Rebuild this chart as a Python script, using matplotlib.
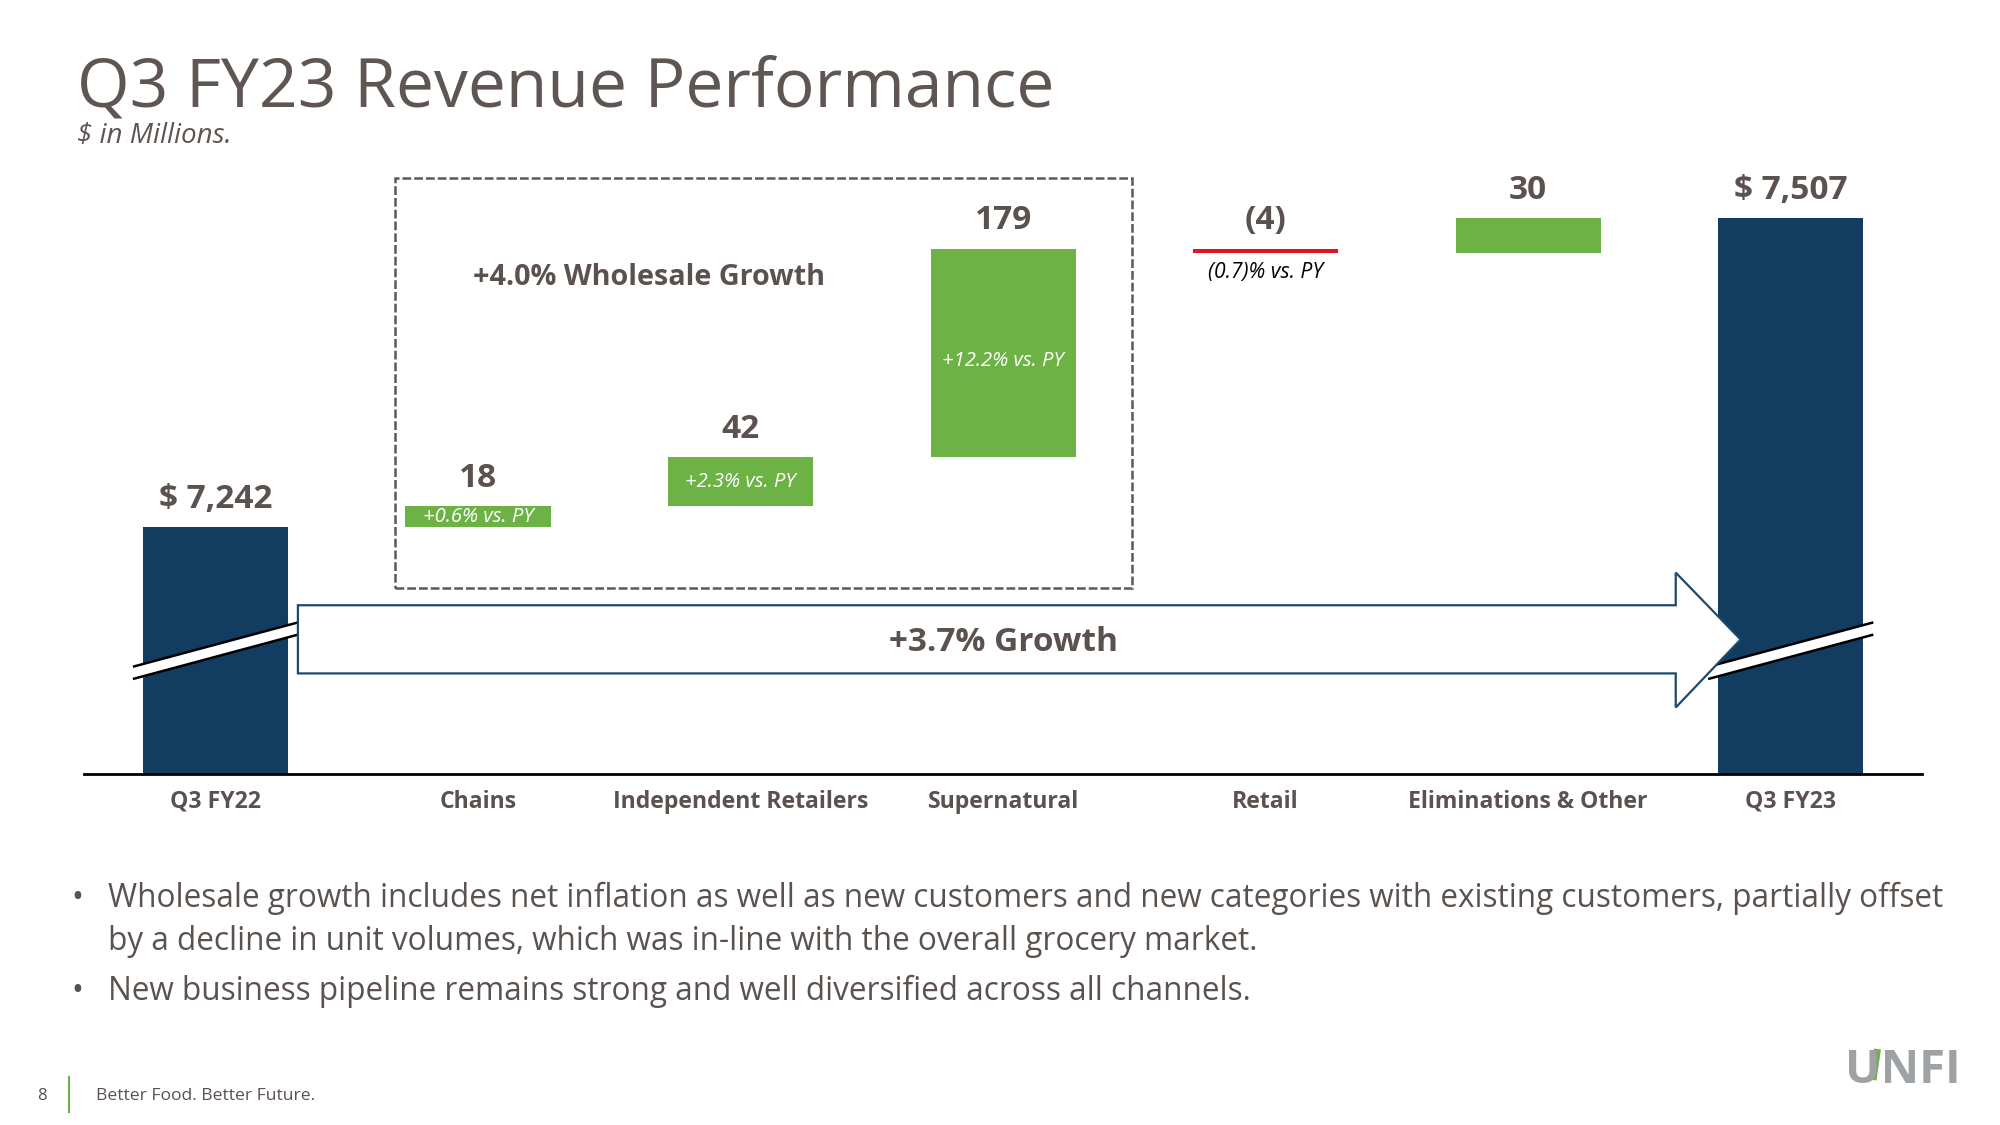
import numpy as np
import matplotlib.pyplot as plt
from matplotlib.patches import Polygon, Rectangle
from matplotlib.lines import Line2D

plt.rcParams['font.family'] = ['Open Sans', 'DejaVu Sans']

# 数据
categories = ['Q3 FY22', 'Chains', 'Independent Retailers', 'Supernatural',
              'Retail', 'Eliminations & Other', 'Q3 FY23']
start_total = 7242
deltas = [18, 42, 179, -4, 30]
end_total = 7507
value_labels = ['$ 7,242', '18', '42', '179', '(4)', '30', '$ 7,507']
pct_labels = ['+0.6% vs. PY', '+2.3% vs. PY', '+12.2% vs. PY', '(0.7)% vs. PY']
bullets = [
    'Wholesale growth includes net inflation as well as new customers and new categories with existing customers, partially offset\nby a decline in unit volumes, which was in-line with the overall grocery market.',
    'New business pipeline remains strong and well diversified across all channels.',
]

navy = '#123d60'
green = '#6db244'
red = '#e3141f'
txt = '#5b524f'

# 瀑布图的底和顶
bottoms = [0]
heights = [start_total]
run = start_total
for d in deltas:
    bottoms.append(run)
    heights.append(d)
    run += d
bottoms.append(0)
heights.append(end_total)
colors = [navy] + [green if d > 0 else red for d in deltas] + [navy]
x = np.arange(len(categories))

fig = plt.figure(figsize=(20, 11.25), dpi=100)
ax = fig.add_axes([0.0421, 0.3118, 0.9189, 0.549])
ax.set_xlim(-0.5, 6.5)
ax.set_ylim(7030, 7560)
ax.bar(x, heights, bottom=bottoms, width=0.553, color=colors, zorder=2)

for s in ['top', 'right', 'left', 'bottom']:
    ax.spines[s].set_visible(False)
ax.axhline(7030, color='black', lw=2, zorder=5, clip_on=False)
ax.set_yticks([])
ax.set_xticks(x)
ax.set_xticklabels(categories, fontsize=16.6, fontweight='bold', color=txt)
ax.tick_params(axis='x', length=0, pad=11)

# 数值标签
for i in range(len(x)):
    top = bottoms[i] + max(heights[i], 0)
    ax.annotate(value_labels[i], (x[i], top), xytext=(0, 20), textcoords='offset points',
                ha='center', va='center', fontsize=24, fontweight='bold', color=txt)

# 百分比标签（大柱子里的略偏下）
for j in range(3):
    i = j + 1
    nudge = -6 if heights[i] > 100 else 0
    ax.annotate(pct_labels[j], (x[i], bottoms[i] + heights[i] / 2), xytext=(0, nudge),
                textcoords='offset points', ha='center', va='center',
                fontsize=14.6, style='italic', color='white', zorder=3)
ax.annotate(pct_labels[3], (x[4], bottoms[4] + heights[4]), xytext=(0, -14),
            textcoords='offset points', ha='center', va='center', fontsize=15.2,
            style='italic', color='black')

# 虚线框
ax.add_patch(Rectangle((0.685, 7190), 2.805, 352, fill=False, ec='#595959', lw=1.8,
                       ls=(0, (3.5, 1.2)), zorder=3))
ax.text(1.65, 7456, '+4.0% Wholesale Growth', ha='center', va='center',
        fontsize=20.7, fontweight='bold', color=txt)

# 断轴标记
for i in [0, 6]:
    xs = np.array([-0.31, 0.31])
    top_line = np.array([7122.5, 7160])
    strip = Polygon([(x[i] + xs[0], top_line[0]), (x[i] + xs[1], top_line[1]),
                     (x[i] + xs[1], top_line[1] - 10.5), (x[i] + xs[0], top_line[0] - 10.5)],
                    closed=True, fc='white', ec='none', zorder=3)
    ax.add_patch(strip)
    ax.plot(x[i] + xs, top_line, color='black', lw=1.8, zorder=3)
    ax.plot(x[i] + xs, top_line - 10.5, color='black', lw=1.8, zorder=3)

# 增长箭头
arrow = Polygon([(0.314, 7175), (5.562, 7175), (5.562, 7203), (5.809, 7145.6),
                 (5.562, 7087.3), (5.562, 7116.5), (0.314, 7116.5)],
                closed=True, fc='white', ec='#1c4a6c', lw=1.6, zorder=4)
ax.add_patch(arrow)
ax.text(3.0, 7143, '+3.7% Growth', ha='center', va='center', fontsize=24,
        fontweight='bold', color=txt, zorder=5)

# 标题
fig.text(77 / 2000, 1 - 106 / 1125, 'Q3 FY23 Revenue Performance', fontsize=48.8,
         color='#5f5552', va='baseline', ha='left')
fig.text(77 / 2000, 1 - 143 / 1125, '$ in Millions.', fontsize=20, style='italic',
         color='#5f5552', va='baseline', ha='left')

# 要点
lines = bullets[0].split('\n') + [bullets[1]]
baselines = [907, 950, 1000]
for k, line in enumerate(lines):
    y = 1 - baselines[k] / 1125
    if k != 1:
        fig.text(77 / 2000, y, '\u2022', fontsize=22.7, color=txt, va='baseline', ha='center')
    fig.text(108 / 2000, y, line, fontsize=22.7, color=txt, va='baseline')

# 页脚
fig.text(42 / 2000, 1 - 1096 / 1125, '8', fontsize=12, color=txt, ha='center', va='center')
fig.add_artist(Line2D([69 / 2000, 69 / 2000], [1 - 1077 / 1125, 1 - 1112 / 1125],
                      color=green, lw=1.5))
fig.text(96 / 2000, 1 - 1096 / 1125, 'Better Food. Better Future.', fontsize=12.6,
         color=txt, va='center')
fig.text(1845 / 2000, 1 - 1083 / 1125, 'UNFI', fontsize=34, fontweight='bold',
         color='#9ea2a4', va='baseline')
fig.add_artist(Line2D([1873 / 2000, 1877.5 / 2000], [1 - 1080 / 1125, 1 - 1049 / 1125],
                      color=green, lw=5, solid_capstyle='butt'))

fig.savefig('out.png', dpi=100)
